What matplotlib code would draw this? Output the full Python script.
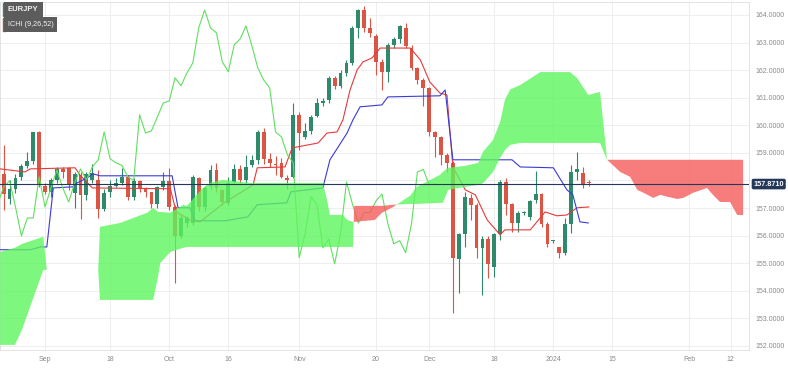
import numpy as np
import pandas as pd
import matplotlib
matplotlib.use("Agg")
import matplotlib.pyplot as plt

plt.rcParams["font.family"] = ["Liberation Sans", "DejaVu Sans"]

# EUR/JPY daily candles, business days from 23 Aug 2023 to 9 Jan 2024
opens = [158.24, 157.33, 157.70, 158.13, 158.53, 158.71, 159.76, 157.80, 157.59, 158.02,
         158.42, 158.45, 157.55, 158.20, 157.48, 158.02, 158.02, 156.97, 157.59, 157.80,
         157.91, 158.13, 157.41, 157.99, 157.73, 157.59, 157.15, 157.77, 157.99, 157.04,
         155.99, 156.46, 156.46, 158.09, 157.04, 157.80, 158.38, 157.66, 157.19, 157.95,
         158.42, 158.02, 158.57, 158.75, 159.76, 158.79, 158.60, 158.64, 158.10, 158.13,
         160.38, 159.58, 159.80, 160.34, 160.81, 160.92, 161.72, 161.43, 161.90, 162.26,
         163.53, 164.18, 163.53, 163.24, 162.30, 161.94, 162.91, 163.13, 163.53, 162.80,
         162.08, 161.64, 161.36, 159.76, 159.58, 158.93, 158.64, 155.16, 156.07, 157.37,
         157.12, 155.56, 155.88, 154.87, 156.07, 157.95, 157.15, 156.46, 156.83, 156.68,
         157.30, 157.51, 156.43, 155.80, 155.59, 155.38, 156.43, 158.30, 158.28, 157.90]
highs = [159.29, 158.02, 158.24, 158.60, 159.04, 159.76, 159.80, 157.90, 158.10, 158.49,
         158.50, 158.50, 158.30, 158.30, 158.30, 158.60, 158.38, 157.70, 158.02, 158.10,
         158.46, 158.20, 158.10, 158.00, 157.75, 157.60, 157.80, 158.31, 158.46, 157.10,
         156.80, 156.70, 158.20, 158.13, 157.80, 158.57, 158.64, 157.70, 158.13, 158.60,
         158.55, 158.93, 158.93, 159.83, 159.91, 159.00, 158.90, 158.80, 158.20, 160.81,
         160.50, 160.10, 160.38, 160.99, 161.00, 161.80, 161.80, 162.00, 162.37, 163.60,
         164.20, 164.33, 163.90, 163.30, 162.40, 163.00, 163.20, 163.64, 163.70, 162.90,
         162.10, 161.70, 161.40, 159.80, 159.60, 159.00, 158.70, 156.10, 157.59, 157.50,
         157.20, 156.00, 156.00, 156.10, 158.00, 158.10, 157.20, 156.90, 156.90, 157.30,
         158.35, 157.55, 156.50, 155.85, 155.60, 156.64, 158.57, 159.04, 158.50, 158.00]
lows = [156.93, 157.15, 157.55, 158.00, 158.46, 158.60, 157.77, 157.50, 157.40, 157.90,
        158.10, 157.66, 157.00, 156.60, 157.30, 157.90, 156.64, 156.90, 157.41, 157.75,
        157.84, 157.30, 157.30, 157.60, 157.40, 157.00, 157.00, 157.66, 156.93, 154.30,
        155.90, 156.30, 156.40, 156.90, 156.90, 157.70, 157.60, 157.10, 157.10, 157.90,
        157.90, 157.90, 158.50, 158.60, 158.60, 158.50, 158.20, 158.09, 157.70, 158.10,
        159.10, 159.50, 159.70, 160.30, 160.70, 160.80, 161.30, 161.35, 161.80, 162.20,
        163.17, 163.40, 163.20, 161.83, 161.28, 161.57, 162.80, 163.00, 162.80, 162.00,
        161.50, 160.70, 159.60, 158.86, 158.57, 158.31, 153.20, 153.93, 155.60, 156.57,
        155.20, 153.86, 154.47, 154.51, 155.85, 156.75, 156.14, 156.14, 156.75, 156.57,
        157.20, 156.30, 155.60, 155.75, 155.20, 155.30, 156.10, 158.00, 157.73, 157.80]
closes = [157.51, 157.70, 158.09, 158.53, 158.71, 159.76, 157.84, 157.59, 158.02, 158.42,
          158.30, 157.84, 158.24, 157.48, 158.24, 158.27, 156.97, 157.55, 157.80, 157.91,
          158.13, 157.41, 157.99, 157.73, 157.59, 157.15, 157.77, 157.99, 157.04, 155.99,
          156.64, 156.64, 158.13, 157.04, 157.73, 158.38, 157.73, 157.22, 157.91, 158.42,
          158.02, 158.49, 158.75, 159.76, 158.79, 158.64, 158.55, 158.13, 158.00, 160.38,
          159.72, 159.80, 160.30, 160.81, 160.88, 161.72, 161.43, 161.90, 162.26, 163.53,
          164.18, 163.53, 163.35, 162.30, 161.94, 162.91, 163.13, 163.60, 162.88, 162.08,
          161.64, 161.36, 159.76, 159.58, 158.93, 158.64, 155.20, 156.07, 157.41, 157.12,
          155.56, 155.88, 154.98, 156.07, 157.95, 157.15, 156.46, 156.83, 156.84, 157.26,
          157.51, 156.43, 155.70, 155.82, 155.38, 156.43, 158.31, 158.40, 157.84, 157.871]
last_price = 157.871

# Ichimoku (9, 26, 52) lines, read as vertices: bar position, value
tenkan_pos = [-0.6, 3.6, 4.5, 12.1, 12.9, 15.0, 28.2, 29.2, 31.5, 33.2, 37.5, 40.0, 42.2, 42.9,
              47.6, 48.8, 53.2, 54.7, 56.4, 57.4, 58.6, 59.8, 60.8, 62.3, 63.7, 68.8, 70.5,
              72.1, 73.8, 75.0, 76.0, 78.1, 79.8, 81.8, 84.0, 84.8, 89.1, 91.6, 93.6, 95.3,
              97.0, 99.0]
tenkan_val = [158.42, 158.31, 158.42, 158.46, 158.20, 157.73, 157.70, 156.86, 156.57, 156.50,
              157.22, 157.55, 157.84, 158.46, 158.49, 159.18, 159.36, 159.72, 159.76, 160.20,
              161.28, 162.01, 162.30, 162.44, 162.80, 162.80, 162.37, 161.57, 161.17, 161.10,
              158.49, 157.66, 157.48, 156.57, 156.03, 156.21, 156.21, 156.86, 156.72, 156.75,
              157.01, 157.04]
kijun_pos = [-0.6, 4.5, 6.2, 7.3, 8.4, 11.7, 12.4, 14.1, 15.1, 16.3, 28.5, 29.5, 31.5, 32.4,
             37.5, 41.3, 42.9, 47.9, 48.6, 54.0, 55.2, 58.1, 59.1, 60.3, 64.0, 65.0, 73.8,
             74.7, 76.0, 86.0, 87.4, 93.0, 95.3, 96.3, 97.5, 98.9]
kijun_val = [155.49, 155.49, 155.59, 155.59, 157.73, 157.77, 157.91, 158.09, 158.24, 158.17,
             158.17, 157.01, 157.01, 156.54, 156.54, 156.68, 157.12, 157.19, 157.59, 157.73,
             158.75, 159.72, 160.20, 160.67, 160.74, 161.03, 161.07, 161.28, 158.75, 158.75,
             158.49, 158.46, 157.66, 157.48, 156.50, 156.46]

# cloud edges (senkou A / senkou B), already shifted 26 bars forward
cloud_pos = [-0.6, 1.9, 3.1, 6.7, 7.3, 16.0, 16.3, 19.7, 24.3, 25.3, 26.1, 26.5, 28.2, 30.4,
             31.0, 33.7, 34.9, 37.1, 41.7, 54.0, 54.7, 55.2, 57.4, 58.1, 59.1, 59.3, 62.8,
             64.0, 65.9, 68.8, 69.9, 73.8, 74.3, 75.2, 78.1, 80.3, 81.1, 82.8, 84.0, 84.8,
             85.7, 87.4, 90.8, 95.8, 97.0, 98.9, 100.9, 102.1, 104.3, 106.0, 107.2, 108.3,
             109.9, 111.1, 112.3, 114.0, 115.0, 116.6, 119.0, 120.0, 121.2, 122.9, 124.1, 125.1]
span_a = [155.41, 155.56, 155.70, 155.96, 154.76, 154.76, 156.32, 156.46, 156.83, 157.01,
          156.86, 156.86, 156.83, 157.12, 157.08, 157.73, 157.91, 158.02, 157.91, 157.91,
          157.30, 156.75, 156.75, 156.57, 156.50, 156.50, 156.57, 156.83, 157.04, 157.45,
          157.77, 158.20, 158.31, 158.46, 158.53, 158.64, 159.04, 159.47, 160.12, 160.92,
          161.30, 161.46, 161.93, 161.93, 161.72, 161.10, 161.21, 158.75, 158.31, 158.13,
          157.66, 157.55, 157.37, 157.48, 157.41, 157.33, 157.37, 157.55, 157.73, 157.48,
          157.22, 157.22, 156.75, 156.75]
span_b = [152.04, 152.04, 152.59, 154.76, 154.76, 154.76, 153.67, 153.67, 153.67, 153.67,
          154.50, 155.01, 155.41, 155.56, 155.59, 155.59, 155.59, 155.59, 155.59, 155.59,
          155.59, 155.59, 155.59, 155.59, 155.59, 157.08, 157.08, 157.08, 157.12, 157.15,
          157.15, 157.19, 157.19, 157.66, 157.77, 157.84, 157.90, 158.31, 158.82, 159.10,
          159.29, 159.36, 159.36, 159.36, 159.36, 159.36, 159.36, 158.75, 158.75, 158.75,
          158.75, 158.75, 158.75, 158.75, 158.75, 158.75, 158.75, 158.75, 158.75, 158.75,
          158.75, 158.75, 158.75, 158.75]

tick_dates = ["2023-09-01", "2023-09-18", "2023-10-02", "2023-10-16", "2023-11-01", "2023-11-20",
              "2023-12-01", "2023-12-18", "2024-01-01", "2024-01-15", "2024-02-01", "2024-02-12"]
tick_labels = ["Sep", "18", "Oct", "16", "Nov", "20", "Dec", "18", "2024", "15", "Feb", "12"]

dates = pd.bdate_range("2023-08-23", periods=140)
x = np.arange(len(closes))

fig = plt.figure(figsize=(7.88, 3.75), dpi=100)
ax = fig.add_axes([0.0, 25 / 375, 749 / 788, 348 / 375])

up_col = "#2e8a6a"
down_col = "#dc5444"

# candles
o = np.array(opens)
c = np.array(closes)
cols = [up_col if cc >= oo else down_col for oo, cc in zip(o, c)]
ax.vlines(x, lows, highs, colors=cols, linewidth=0.8, zorder=2)
body = np.where(np.abs(c - o) < 0.03, 0.03, c - o)
ax.bar(x, body, bottom=o, width=0.65, color=cols, linewidth=0, zorder=2)

# ichimoku lines
ax.plot(tenkan_pos, tenkan_val, color="#e8393a", lw=0.8, zorder=3)
ax.plot(kijun_pos, kijun_val, color="#3a3ad6", lw=0.8, zorder=3)
ax.plot(x - 26, closes, color="#5fe05f", lw=0.8, zorder=3)  # chikou span

# cloud
a = np.array(span_a)
b = np.array(span_b)
ax.fill_between(cloud_pos, a, b, where=a >= b, interpolate=True,
                color="#5ef55e", alpha=0.8, linewidth=0, zorder=4)
ax.fill_between(cloud_pos, a, b, where=a < b, interpolate=True,
                color="#f65c5c", alpha=0.8, linewidth=0, zorder=4)

# last price line + label
ax.axhline(last_price, color="#24395a", lw=0.8, zorder=5)
ax.text(1.006, last_price, f"{last_price:.4f}", transform=ax.get_yaxis_transform(),
        ha="left", va="center", fontsize=5.2, color="white", fontweight="bold",
        bbox=dict(boxstyle="round,pad=0.25", fc="#24395a", ec="none"), zorder=6,
        clip_on=False)

# axes
ax.set_xlim(-0.62, 126.1)
ax.set_ylim(151.855, 164.47)
tick_pos = [dates.get_loc(pd.Timestamp(d)) for d in tick_dates]
ax.set_xticks(tick_pos)
ax.set_xticklabels(tick_labels)
yt = np.arange(152, 165)
ax.set_yticks(yt)
# 158 is hidden behind the last price tag
ax.set_yticklabels(["" if v == 158 else f"{v:.4f}" for v in yt])
ax.yaxis.tick_right()
ax.tick_params(axis="both", length=0, labelsize=5, colors="#8a8a8a")
ax.tick_params(axis="y", pad=5)
ax.tick_params(axis="x", pad=4)
ax.grid(True, color="#ebebeb", lw=0.6, zorder=0)
ax.set_axisbelow(True)
for s in ax.spines.values():
    s.set_color("#dedede")
    s.set_linewidth(0.6)

# legend tags top-left
fig.text(8 / 788, 1 - 9.5 / 375, "EURJPY", fontsize=5.5, color="#f2f2f2", va="center",
         ha="left", fontweight="bold",
         bbox=dict(boxstyle="square,pad=0.55", fc="#5c5c5c", ec="none"))
fig.text(8 / 788, 1 - 24.5 / 375, "ICHI (9,26,52)", fontsize=5.2, color="#f2f2f2", va="center",
         ha="left", bbox=dict(boxstyle="square,pad=0.5", fc="#5c5c5c", ec="none"))
fig.patches.append(plt.Rectangle((3 / 788, 1 - 16 / 375), 2 / 788, 13 / 375,
                                 transform=fig.transFigure, color="#2e8a6a"))
fig.patches.append(plt.Rectangle((3 / 788, 1 - 31 / 375), 2 / 788, 13 / 375,
                                 transform=fig.transFigure, color="#d23a3a"))

fig.savefig("out.png", dpi=100)
